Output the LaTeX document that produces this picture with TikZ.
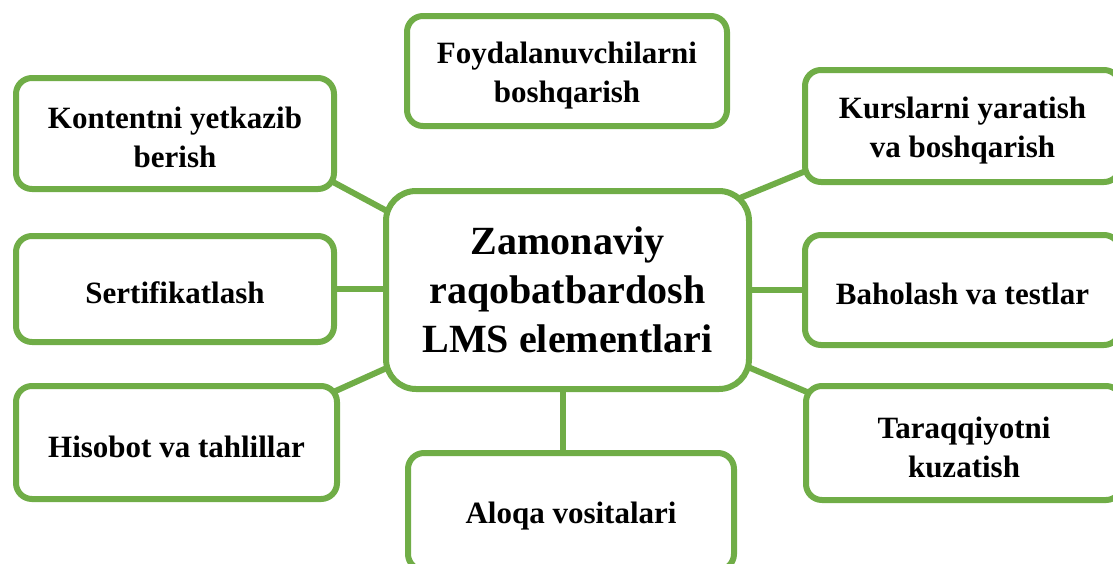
\documentclass[tikz,border=0pt]{standalone}
\usepackage{fontspec}
\setmainfont{Liberation Serif}
\usetikzlibrary{calc,backgrounds}
\definecolor{lmsgreen}{RGB}{112,173,71}
\newcommand{\tstr}{\rule{0pt}{30pt}}
\tikzset{
  box/.style={draw=lmsgreen, line width=6pt, fill=white, rounded corners=16pt,
    align=center, font=\fontsize{31}{39}\selectfont\bfseries, text=black,
    inner sep=0pt, outer sep=0pt},
  hub/.style={box, rounded corners=30pt, font=\fontsize{40}{49}\selectfont\bfseries},
  link/.style={draw=lmsgreen, line width=6pt},
}
\begin{document}
\begin{tikzpicture}[x=1pt,y=-1pt]
\useasboundingbox (0,0) rectangle (1113,563);
\node[hub, minimum width=363pt, minimum height=198pt] (hub) at (567.5,290)
  {Zamonaviy\\raqobatbardosh\\LMS elementlari};
\node[box, minimum width=320pt, minimum height=110pt] (foy) at (567,71)
  {\tstr Foydalanuvchilarni\\boshqarish};
\node[box, minimum width=318pt, minimum height=111pt] (kont) at (175,133.5)
  {\tstr Kontentni yetkazib\\berish};
\node[box, minimum width=315pt, minimum height=112pt] (kurs) at (962.5,126)
  {\tstr Kurslarni yaratish\\va boshqarish};
\node[box, minimum width=318pt, minimum height=106pt] (sert) at (175,289)
  {\tstr Sertifikatlash};
\node[box, minimum width=315pt, minimum height=110pt] (bah) at (962.5,290)
  {\tstr Baholash va testlar};
\node[box, minimum width=321pt, minimum height=113pt] (his) at (176.5,442.5)
  {\tstr Hisobot va tahlillar};
\node[box, minimum width=316pt, minimum height=114pt] (tar) at (964,443)
  {\tstr Taraqqiyotni\\kuzatish};
\node[box, minimum width=326pt, minimum height=117pt] (alo) at (571,511.5)
  {\tstr Aloqa vositalari};
\begin{scope}[on background layer]
  \draw[link] ($(kont.south east)+(-14,-14)$) -- ($(hub.north west)+(14,27)$);
  \draw[link] ($(hub.north east)+(-14,9)$) -- ($(kurs.south west)+(13,-16)$);
  \draw[link] (sert.east) -- (sert.east -| hub.west);
  \draw[link] (hub.east) -- (hub.east -| bah.west);
  \draw[link] ($(hub.south east)+(-14,-27.5)$) -- ($(tar.north west)+(14,11.5)$);
  \draw[link] ($(his.north east)+(-17,12)$) -- ($(hub.south west)+(14,-27)$);
  \draw[link] ($(hub.south)+(-4.5,-10)$) -- ($(alo.north)+(-8,10)$);
\end{scope}
\end{tikzpicture}
\end{document}
